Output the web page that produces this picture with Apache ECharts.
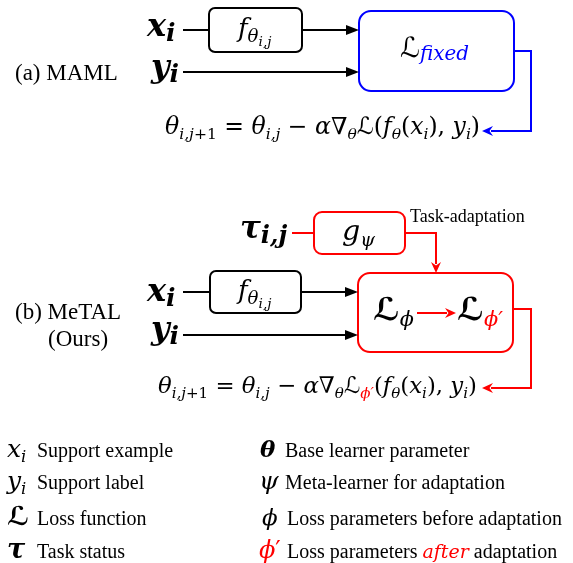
<!DOCTYPE html>
<html>
<head>
<meta charset="utf-8">
<script src="https://cdn.jsdelivr.net/npm/echarts/dist/echarts.min.js"></script>
<style>html,body{margin:0;padding:0;background:#fff}#c{width:573px;height:563px}</style>
</head>
<body>
<div id="c"></div>
<script>
// ---------------- content (data) ----------------
const panelLabels = ['(a) MAML', '(b) MeTAL', '(Ours)'];
const annotation = 'Task-adaptation';
const boxNames = ['f(a)', 'L_fixed', 'g_psi', 'f(b)', 'L_phi'];
const boxColors = ['#000000', '#0000ff', '#ff0000', '#000000', '#ff0000'];
const legendTexts = [
  [['Support example', 'tx']],
  [['Support label', 'tx']],
  [['Loss function', 'tx']],
  [['Task status', 'tx']],
  [['Base learner parameter', 'tx']],
  [['Meta-learner for adaptation', 'tx']],
  [['Loss parameters before adaptation', 'tx']],
  [['Loss parameters ', 'tx'], ['after', 'itn', '#ff0000'], [' adaptation', 'tx']]
];
const legendSymbols = [
  [['x', 'it'], ['i', 's']],
  [['y', 'it'], ['i', 's']],
  [['ℒ', 'calb']],
  [['τ', 'bi']],
  [['θ', 'bi']],
  [['ψ', 'it']],
  [['ϕ', 'it']],
  [['ϕ', 'it', '#ff0000'], ['′', 'up', '#ff0000']]
];
const formulaA = [['θ','it'],['i,j','s'],['+1','su'],[' = ','up'],['θ','it'],['i,j','s'],[' − ','up'],['α','it'],['∇','up'],['θ','s'],['ℒ','cal'],['(','up'],['f','it'],['θ','s'],['(','up'],['x','it'],['i','s'],['),','up'],[' y','it'],['i','s'],[')','up']];
const formulaB = [['θ','it'],['i,j','s'],['+1','su'],[' = ','up'],['θ','it'],['i,j','s'],[' − ','up'],['α','it'],['∇','up'],['θ','s'],['ℒ','cal'],['ϕ′','s','#ff0000'],['(','up'],['f','it'],['θ','s'],['(','up'],['x','it'],['i','s'],['),','up'],[' y','it'],['i','s'],[')','up']];

// ---------------- layout ----------------
const boxRects = [ // x0, y0, x1, y1
  [209, 8, 302, 52],
  [359, 11, 514, 91],
  [314, 212, 405, 254],
  [210, 271, 301, 313],
  [358, 273, 513, 352]
];
const boxRadius = [6, 12, 8, 6, 12];

const connectors = [
  {pts: [[183,30],[209,30]], c: '#000'},
  {pts: [[302,30],[359,30]], c: '#000', head: 'tri'},
  {pts: [[183,72],[359,72]], c: '#000', head: 'tri'},
  {pts: [[514,51],[531,51],[531,131],[482,131]], c: '#0000ff', head: 'stealth'},
  {pts: [[292,233],[314,233]], c: '#ff0000'},
  {pts: [[405,233],[436,233],[436,273]], c: '#ff0000', head: 'stealth'},
  {pts: [[183,292],[210,292]], c: '#000'},
  {pts: [[301,292],[358,292]], c: '#000', head: 'tri'},
  {pts: [[183,335],[358,335]], c: '#000', head: 'tri'},
  {pts: [[417,313],[456,313]], c: '#ff0000', head: 'stealth'},
  {pts: [[513,309],[531,309],[531,388],[482,388]], c: '#ff0000', head: 'stealth'}
];

// text items: tokens, left x, baseline y, size, optional fit width
const textItems = [
  {tk: [['x','bi'],['i','bs']], x: 147, y: 36, s: 32},
  {tk: [['y','bi'],['i','bs']], x: 151, y: 77, s: 32},
  {tk: [['f','it'],['θ','fs'],['i,j','fss']], x: 238, y: 37, s: 26},
  {tk: [['ℒ','cal'],['fixed','sl','#0000ff']], x: 400, y: 57, s: 27, w: 69},
  {tk: formulaA, x: 165, y: 134, s: 20, w: 315},
  {tk: [['τ','bi'],['i,j','bs']], x: 240, y: 238, s: 31},
  {tk: [['g','it'],['ψ','s']], x: 342, y: 240, s: 28, w: 33},
  {tk: [[annotation,'tx']], x: 410, y: 222, s: 18},
  {tk: [['x','bi'],['i','bs']], x: 147, y: 301, s: 32},
  {tk: [['y','bi'],['i','bs']], x: 151, y: 339, s: 32},
  {tk: [['f','it'],['θ','fs'],['i,j','fss']], x: 238, y: 299, s: 26},
  {tk: [['ℒ','calb'],['ϕ','s']], x: 373, y: 320, s: 34, w: 41},
  {tk: [['ℒ','calb'],['ϕ′','s','#ff0000']], x: 457, y: 320, s: 34, w: 46},
  {tk: formulaB, x: 158, y: 393, s: 20, w: 319},
  {tk: [[panelLabels[0],'tx']], x: 15, y: 80, s: 23},
  {tk: [[panelLabels[1],'tx']], x: 15, y: 319, s: 23},
  {tk: [[panelLabels[2],'tx']], x: 48, y: 346, s: 23}
];
const legendRows = [457, 489, 525, 558];
const legendSymX = [7, 7, 7, 7, 260, 259, 262, 259];
const legendSymS = [25, 25, 26, 27, 23, 25, 23, 24];
const legendTxtX = [37, 37, 37, 37, 285, 285, 287, 287];
for (let i = 0; i < 8; i++) {
  textItems.push({tk: legendSymbols[i], x: legendSymX[i], y: legendRows[i % 4], s: legendSymS[i]});
  textItems.push({tk: legendTexts[i], x: legendTxtX[i], y: legendRows[i % 4], s: 20});
}

// ---------------- text engine ----------------
const MATH = '"DejaVu Serif"';
const CAL = '"DejaVu Sans"';
const TXT = '"Liberation Serif"';
const KEYS = {
  it:  {st: 'italic', wt: 'normal', s: 1, dy: 0, f: MATH},
  itn: {st: 'italic', wt: 'normal', s: 0.95, dy: 0, f: MATH},
  up:  {st: 'normal', wt: 'normal', s: 1, dy: 0, f: MATH},
  bi:  {st: 'italic', wt: 'bold', s: 1, dy: 0, f: MATH},
  cal: {st: 'normal', wt: 'normal', s: 1, dy: 0, f: CAL},
  calb:{st: 'normal', wt: 'bold', s: 1, dy: 0, f: CAL},
  s:   {st: 'italic', wt: 'normal', s: 0.66, dy: 0.2, f: MATH},
  fs:  {st: 'italic', wt: 'normal', s: 0.7, dy: 0.2, f: MATH},
  fss: {st: 'italic', wt: 'normal', s: 0.52, dy: 0.34, f: MATH},
  sl:  {st: 'italic', wt: 'normal', s: 0.72, dy: 0.1, f: MATH},
  su:  {st: 'normal', wt: 'normal', s: 0.66, dy: 0.2, f: MATH},
  bs:  {st: 'italic', wt: 'bold', s: 0.78, dy: 0.17, f: MATH},
  tx:  {st: 'normal', wt: 'normal', s: 1, dy: 0, f: TXT}
};
const mctx = document.createElement('canvas').getContext('2d');
// distance from canvas "middle" baseline down to the alphabetic baseline
function middleToAlpha(font) {
  mctx.font = font;
  mctx.textBaseline = 'alphabetic';
  const a = mctx.measureText('H').actualBoundingBoxDescent;
  mctx.textBaseline = 'middle';
  const b = mctx.measureText('H').actualBoundingBoxDescent;
  mctx.textBaseline = 'alphabetic';
  return b - a;
}
function measure(tokens, size) {
  let x = 0; const out = [];
  for (const [t, key, c] of tokens) {
    const K = KEYS[key];
    const fs = size * K.s;
    const font = `${K.st} ${K.wt} ${fs.toFixed(2)}px ${K.f}`;
    mctx.font = font;
    const w = mctx.measureText(t).width;
    out.push({t, font, fs, x, dy: K.dy * size, off: middleToAlpha(font), c});
    x += w;
  }
  return {out, width: x};
}

// ---------------- chart ----------------
const chart = echarts.init(document.getElementById('c'));
const W = 573, H = 563;

chart.setOption({
  animation: false,
  backgroundColor: '#ffffff',
  grid: {left: 0, right: 0, top: 0, bottom: 0},
  xAxis: {type: 'value', min: 0, max: W, show: false},
  yAxis: {type: 'value', min: 0, max: H, inverse: true, show: false},
  series: [
    {
      type: 'custom', name: 'boxes', coordinateSystem: 'cartesian2d', z: 1,
      data: boxRects.map((r, i) => ({name: boxNames[i], value: r})),
      renderItem: function (params, api) {
        const i = params.dataIndex;
        const p0 = api.coord([api.value(0), api.value(1)]);
        const p1 = api.coord([api.value(2), api.value(3)]);
        return {
          type: 'rect',
          shape: {x: p0[0], y: p0[1], width: p1[0] - p0[0], height: p1[1] - p0[1], r: boxRadius[i]},
          style: {fill: '#ffffff', stroke: boxColors[i], lineWidth: 2}
        };
      }
    },
    {
      type: 'custom', name: 'connectors', coordinateSystem: 'cartesian2d', z: 2,
      data: connectors.map(c => c.pts[0]),
      renderItem: function (params, api) {
        const cn = connectors[params.dataIndex];
        const pts = cn.pts.map(p => api.coord(p));
        const children = [];
        if (cn.head) {
          const n = pts.length;
          const tip = pts[n - 1], prev = pts[n - 2];
          const dx = tip[0] - prev[0], dy = tip[1] - prev[1];
          const len = Math.hypot(dx, dy);
          const ux = dx / len, uy = dy / len, px = -uy, py = ux;
          let L, hw, notch;
          if (cn.head === 'tri') { L = 13; hw = 5; notch = 0; }
          else { L = 11; hw = 5; notch = 3.5; }
          const bx = tip[0] - ux * L, by = tip[1] - uy * L;
          const poly = [
            tip,
            [bx + px * hw, by + py * hw],
            [bx + ux * notch, by + uy * notch],
            [bx - px * hw, by - py * hw]
          ];
          const linePts = pts.slice();
          linePts[n - 1] = [tip[0] - ux * (L - 2), tip[1] - uy * (L - 2)];
          children.push({type: 'polyline', shape: {points: linePts}, style: {stroke: cn.c, lineWidth: 2, fill: null}});
          children.push({type: 'polygon', shape: {points: poly}, style: {fill: cn.c}});
        } else {
          children.push({type: 'polyline', shape: {points: pts}, style: {stroke: cn.c, lineWidth: 2, fill: null}});
        }
        return {type: 'group', children};
      }
    },
    {
      type: 'custom', name: 'texts', coordinateSystem: 'cartesian2d', z: 3,
      data: textItems.map(t => [t.x, t.y]),
      renderItem: function (params, api) {
        const it = textItems[params.dataIndex];
        let size = it.s;
        let m = measure(it.tk, size);
        if (it.w) { size = size * it.w / m.width; m = measure(it.tk, size); }
        const p = api.coord([api.value(0), api.value(1)]);
        const children = m.out.map(o => ({
          type: 'text',
          style: {
            text: o.t, x: p[0] + o.x, y: p[1] + o.dy - o.off,
            font: o.font, fill: o.c || '#000000', align: 'left', verticalAlign: 'middle'
          }
        }));
        return {type: 'group', children};
      }
    }
  ]
});
</script>
</body>
</html>
